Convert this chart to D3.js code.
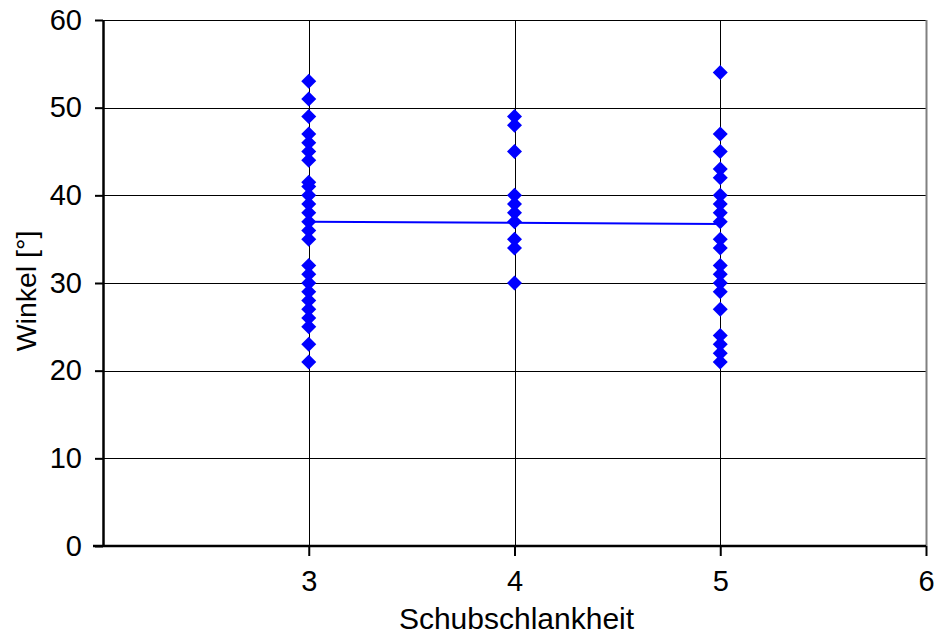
<!DOCTYPE html>
<html>
<head>
<meta charset="utf-8">
<script src="https://cdn.jsdelivr.net/npm/d3@7"></script>
<style>
  html, body { margin: 0; padding: 0; background: #fff; }
  svg { display: block; font-family: "Liberation Sans", Arial, sans-serif; }
</style>
</head>
<body>
<svg id="chart" width="936" height="635"></svg>
<script>
// ---- data ----
const xCategories = [3, 4, 5];
const valuesAt3 = [53, 51, 49, 47, 46, 45, 44, 41.5, 41, 40, 39, 38, 37, 36, 35, 32, 31, 30, 29, 28, 27, 26, 25, 23, 21];
const valuesAt4 = [49, 48, 45, 40, 39, 38, 37, 35, 34, 30];
const valuesAt5 = [54, 47, 45, 43, 42, 40, 39, 38, 37, 35, 34, 32, 31, 30, 29, 27, 24, 23, 22, 21];
const trendX = [3, 5];
const trendY = [37.0, 36.73];
const xTicks = [3, 4, 5, 6];
const yTicks = [0, 10, 20, 30, 40, 50, 60];
const xLabel = "Schubschlankheit";
const yLabel = "Winkel [°]";

const points = [];
[valuesAt3, valuesAt4, valuesAt5].forEach((vals, i) => {
  vals.forEach(v => points.push({ x: xCategories[i], y: v }));
});

const svg = d3.select("#chart");
const mLeft = 103, mRight = 926, mTop = 20, mBottom = 546;

const x = d3.scaleLinear().domain([2, 6]).range([mLeft, mRight]);
const y = d3.scaleLinear().domain([0, 60]).range([mBottom, mTop]);

// gridlines
const grid = svg.append("g");
grid.selectAll("line.h").data(yTicks.filter(d => d > 0)).enter().append("line")
  .attr("x1", mLeft).attr("x2", mRight)
  .attr("y1", d => Math.round(y(d)) + 0.5).attr("y2", d => Math.round(y(d)) + 0.5)
  .attr("stroke", "#000").attr("stroke-width", 1);
grid.selectAll("line.v").data(xTicks).enter().append("line")
  .attr("y1", mTop).attr("y2", mBottom)
  .attr("x1", d => Math.round(x(d)) + 0.5).attr("x2", d => Math.round(x(d)) + 0.5)
  .attr("stroke", d => d === 6 ? "#808080" : "#000").attr("stroke-width", d => d === 6 ? 2 : 1);

// axes
const fs = 29;
const yAxis = svg.append("g").attr("transform", `translate(${mLeft},0)`)
  .call(d3.axisLeft(y).tickValues(yTicks).tickFormat(d3.format("d")).tickSize(8).tickPadding(13).tickSizeOuter(0));
const xAxis = svg.append("g").attr("transform", `translate(0,${mBottom})`)
  .call(d3.axisBottom(x).tickValues(xTicks).tickFormat(d3.format("d")).tickSize(10).tickPadding(14).tickSizeOuter(0));
[yAxis, xAxis].forEach(g => {
  g.select(".domain").attr("stroke", "#000").attr("stroke-width", 2.5);
  g.selectAll(".tick line").attr("stroke", "#000").attr("stroke-width", 2);
  g.selectAll(".tick text").attr("fill", "#000").style("font-size", fs + "px")
    .style("font-family", "'Liberation Sans', Arial, sans-serif");
});
xAxis.select(".domain").attr("d", `M${mLeft - 10},0H${mRight}`);

// axis titles
svg.append("text").attr("x", (mLeft + mRight) / 2 + 2).attr("y", 629)
  .attr("text-anchor", "middle").style("font-size", "30px").attr("fill", "#000").text(xLabel);
svg.append("text").attr("transform", `translate(36,${(mTop + mBottom) / 2 + 8}) rotate(-90)`)
  .attr("text-anchor", "middle").style("font-size", "28.5px").attr("fill", "#000").text(yLabel);

// trend line
svg.append("path")
  .datum(trendX.map((d, i) => ({ x: d, y: trendY[i] })))
  .attr("d", d3.line().x(d => x(d.x)).y(d => y(d.y)))
  .attr("fill", "none").attr("stroke", "#0000ff").attr("stroke-width", 2);

// diamond markers
const r = 7.5;
svg.append("g").selectAll("path").data(points).enter().append("path")
  .attr("transform", d => `translate(${x(d.x)},${y(d.y)})`)
  .attr("d", `M0,${-r}L${r},0L0,${r}L${-r},0Z`)
  .attr("fill", "#0000ff");
</script>
</body>
</html>
